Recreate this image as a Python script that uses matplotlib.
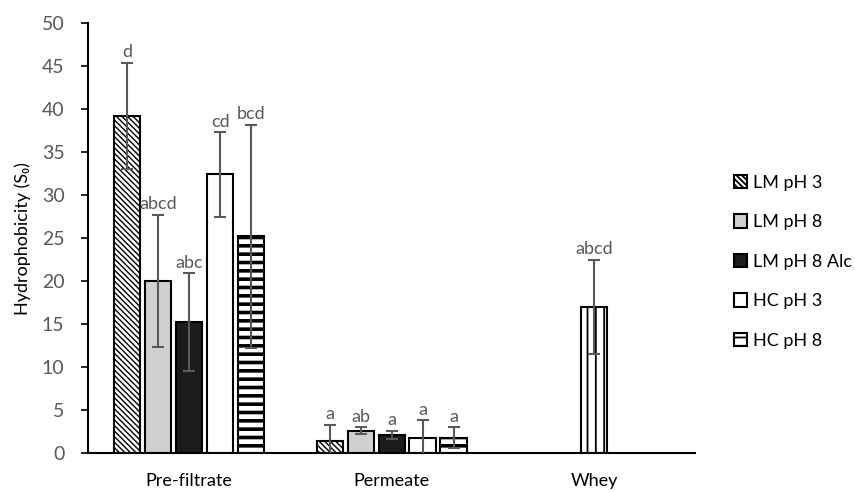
import numpy as np
import matplotlib.pyplot as plt

plt.rcParams['font.family'] = ['Lato', 'DejaVu Sans']

categories = ['Pre-filtrate', 'Permeate', 'Whey']
series = ['LM pH 3', 'LM pH 8', 'LM pH 8 Alc', 'HC pH 3', 'HC pH 8']

# mean hydrophobicity per series for Pre-filtrate and Permeate
means = {
    'LM pH 3':     [39.2, 1.4],
    'LM pH 8':     [20.0, 2.6],
    'LM pH 8 Alc': [15.2, 2.1],
    'HC pH 3':     [32.4, 1.8],
    'HC pH 8':     [25.2, 1.8],
}
errors = {
    'LM pH 3':     [6.2, 1.9],
    'LM pH 8':     [7.7, 0.4],
    'LM pH 8 Alc': [5.7, 0.5],
    'HC pH 3':     [4.9, 2.0],
    'HC pH 8':     [13.0, 1.2],
}
letters = {
    'LM pH 3':     ['d', 'a'],
    'LM pH 8':     ['abcd', 'ab'],
    'LM pH 8 Alc': ['abc', 'a'],
    'HC pH 3':     ['cd', 'a'],
    'HC pH 8':     ['bcd', 'a'],
}
whey_mean = 17.0
whey_err = 5.5
whey_letter = 'abcd'

styles = {
    'LM pH 3':     dict(color='white', hatch='\\\\\\\\\\\\', hlw=1.0),
    'LM pH 8':     dict(color='#d0d0d0', hatch=None, hlw=1.0),
    'LM pH 8 Alc': dict(color='#1c1c1c', hatch=None, hlw=1.0),
    'HC pH 3':     dict(color='white', hatch=None, hlw=1.0),
    'HC pH 8':     dict(color='white', hatch='--', hlw=2.6),
}

grey = '#595959'


def set_hlw(patches, lw):
    for p in patches:
        if hasattr(p, 'set_hatch_linewidth'):
            p.set_hatch_linewidth(lw)


fig = plt.figure(figsize=(8.55, 4.92), dpi=100)
ax = fig.add_axes([0.103, 0.079, 0.710, 0.874])

x = np.arange(2)
step = 0.153
width = 0.129

for i, name in enumerate(series):
    pos = x + (i - 2) * step
    st = styles[name]
    plt.rcParams['hatch.linewidth'] = st['hlw']
    bars = ax.bar(pos, means[name], width, color=st['color'], hatch=st['hatch'],
                  edgecolor='black', linewidth=1.5, label=name, zorder=2)
    set_hlw(bars, st['hlw'])
    ax.errorbar(pos, means[name], yerr=errors[name], fmt='none',
                ecolor=grey, elinewidth=1.5, capsize=4, capthick=1.5, zorder=3)
    for p, m, e, t in zip(pos, means[name], errors[name], letters[name]):
        ax.annotate(t, xy=(p, m + e), xytext=(0, 2), textcoords='offset points',
                    ha='center', va='bottom', color=grey, fontsize=13)

# whey bar sits alone at the centre of its category
plt.rcParams['hatch.linewidth'] = 1.3
wb = ax.bar(2, whey_mean, width, color='white', hatch='||', edgecolor='black',
            linewidth=1.5, zorder=2)
set_hlw(wb, 1.3)
ax.errorbar(2, whey_mean, yerr=whey_err, fmt='none', ecolor=grey,
            elinewidth=1.5, capsize=4, capthick=1.5, zorder=3)
ax.annotate(whey_letter, xy=(2, whey_mean + whey_err), xytext=(0, 2),
            textcoords='offset points', ha='center', va='bottom',
            color=grey, fontsize=13)

ax.set_xlim(-0.5, 2.5)
ax.set_ylim(0, 50)
ax.set_yticks(np.arange(0, 51, 5))
ax.set_xticks(range(3))
ax.set_xticklabels(categories)
ax.tick_params(axis='x', length=0, pad=14, labelsize=13, labelcolor='black')
ax.tick_params(axis='y', length=5, width=1.2, labelsize=14, labelcolor=grey, pad=12)
for side in ['top', 'right']:
    ax.spines[side].set_visible(False)
for side in ['left', 'bottom']:
    ax.spines[side].set_linewidth(1.5)

ax.set_ylabel('Hydrophobicity (S\u2080)', fontsize=13, labelpad=8)

ax.legend(loc='center left', bbox_to_anchor=(0.858, 0.468),
          bbox_transform=fig.transFigure, frameon=False, fontsize=13,
          handlelength=0.75, handleheight=0.75, handletextpad=0.3,
          labelspacing=1.3, borderpad=0, borderaxespad=0)

fig.savefig('out.png', dpi=100)
